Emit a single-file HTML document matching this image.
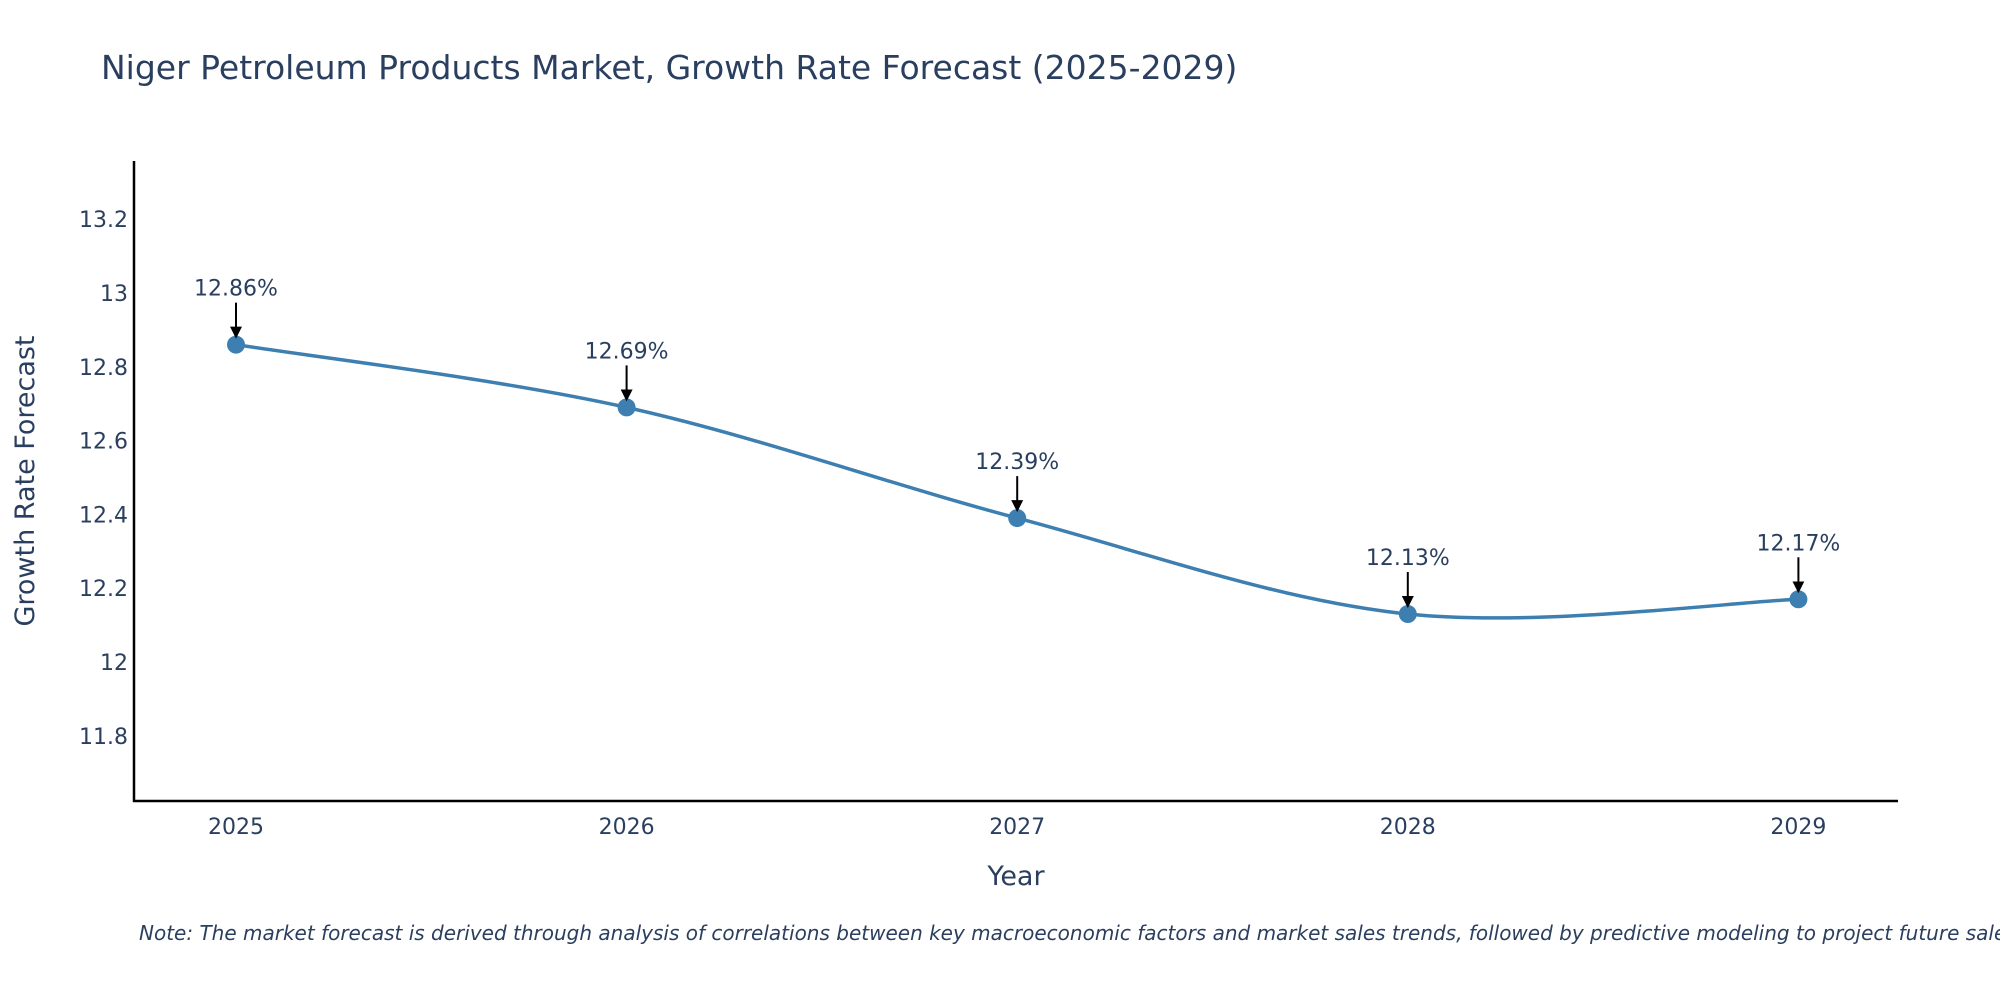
<!DOCTYPE html>
<html><head><meta charset="utf-8"><style>
body{margin:0;background:#fff}
svg text{font-family:"DejaVu Sans","Liberation Sans",sans-serif;fill:#2a3f5f}
</style></head><body>
<svg id="chart" width="2000" height="1000" xmlns="http://www.w3.org/2000/svg">
<defs><marker id="ah" markerWidth="12" markerHeight="12" refX="9" refY="6" orient="auto" markerUnits="userSpaceOnUse" viewBox="0 0 12 12"><path d="M0,0 L12,6 L0,12 z" fill="#000"/></marker></defs>
<text x="101" y="79" font-size="33">Niger Petroleum Products Market, Growth Rate Forecast (2025-2029)</text>
<g id="yticks"></g><g id="xticks"></g>
<line x1="134" y1="161" x2="134" y2="802" stroke="#000" stroke-width="2.5"/>
<line x1="133" y1="801" x2="1898" y2="801" stroke="#000" stroke-width="2.5"/>
<path id="line" fill="none" stroke="#3d7fb0" stroke-width="3.5"/>
<g id="marks"></g><g id="ann"></g>
<text x="1016" y="885" font-size="27" text-anchor="middle">Year</text>
<text transform="translate(34,481) rotate(-90)" font-size="27" text-anchor="middle">Growth Rate Forecast</text>
<text x="139" y="940" font-size="20" font-style="italic">Note: The market forecast is derived through analysis of correlations between key macroeconomic factors and market sales trends, followed by predictive modeling to project future sales.</text>
</svg>
<script>
const years=[2025,2026,2027,2028,2029];
const values=[12.86,12.69,12.39,12.13,12.17];
const labels=["12.86%","12.69%","12.39%","12.13%","12.17%"];
const yTicks=[11.8,12,12.2,12.4,12.6,12.8,13,13.2];
const NS="http://www.w3.org/2000/svg";
const X=v=>236+(v-2025)*390.6;
const Y=v=>662-(v-12)*369;
function mk(t,a,p){const e=document.createElementNS(NS,t);for(const k in a)e.setAttribute(k,a[k]);p.appendChild(e);return e;}
const yt=document.getElementById('yticks');
yTicks.forEach(v=>{const t=mk('text',{x:128,y:Y(v)+8,'font-size':22,'text-anchor':'end'},yt);


t.textContent=String(v);});
const xt=document.getElementById('xticks');
years.forEach(v=>{const t=mk('text',{x:X(v),y:834,'font-size':22,'text-anchor':'middle'},xt);


t.textContent=String(v);});
const pts=years.map((y,i)=>[X(y),Y(values[i])]);
let d='M'+pts[0][0]+','+pts[0][1];
for(let i=0;i<pts.length-1;i++){const p0=pts[Math.max(i-1,0)],p1=pts[i],p2=pts[i+1],p3=pts[Math.min(i+2,pts.length-1)];
const c1=[p1[0]+(p2[0]-p0[0])/6,p1[1]+(p2[1]-p0[1])/6],c2=[p2[0]-(p3[0]-p1[0])/6,p2[1]-(p3[1]-p1[1])/6];
d+=' C'+c1+' '+c2+' '+p2;}
document.getElementById('line').setAttribute('d',d);
const mg=document.getElementById('marks'),ag=document.getElementById('ann');
pts.forEach((p,i)=>{const c=mk('circle',{cx:p[0],cy:p[1],r:9,fill:'#3d7fb0'},mg);


const l=mk('line',{x1:p[0],y1:p[1]-42,x2:p[0],y2:p[1]-9,stroke:'#000','stroke-width':2,'marker-end':'url(#ah)'},ag);


const t=mk('text',{x:p[0],y:p[1]-49,'font-size':22,'text-anchor':'middle'},ag);


t.textContent=labels[i];});
</script>
</body></html>
